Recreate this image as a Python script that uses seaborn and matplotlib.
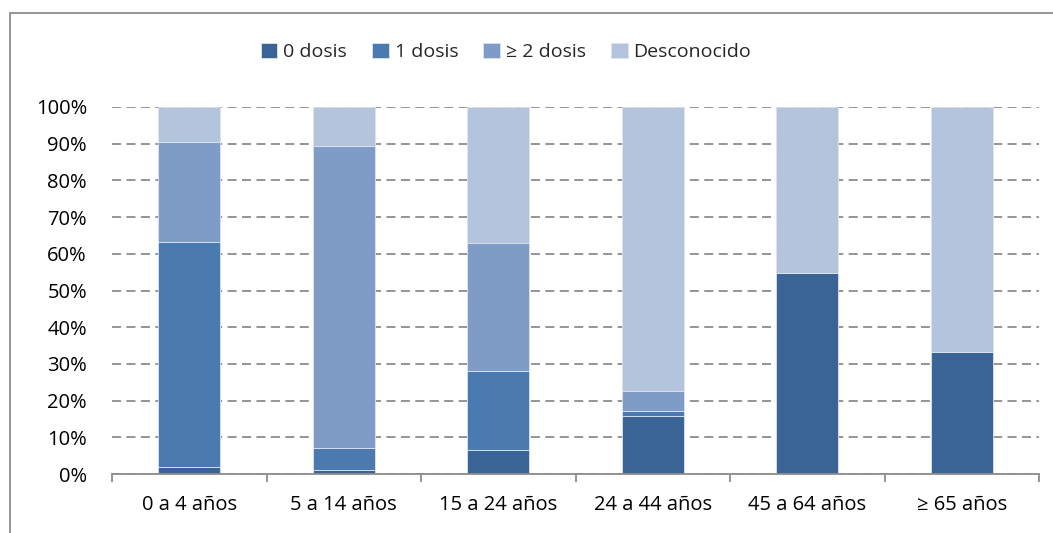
import numpy as np
import pandas as pd
import matplotlib
matplotlib.use("Agg")
import matplotlib.pyplot as plt
import seaborn as sns
from matplotlib.patches import Rectangle
from matplotlib.ticker import FixedLocator, PercentFormatter

# data (shares, %)
age_groups = ["0 a 4 años", "5 a 14 años", "15 a 24 años", "24 a 44 años", "45 a 64 años", "≥ 65 años"]
series_names = ["0 dosis", "1 dosis", "≥ 2 dosis", "Desconocido"]
dose0 = [1.8, 1.1, 6.5, 15.7, 54.9, 33.2]
dose1 = [61.3, 5.9, 21.6, 1.5, 0.0, 0.0]
dose2 = [27.4, 82.5, 34.9, 5.4, 0.0, 0.0]
unknown = [9.5, 10.5, 37.0, 77.4, 45.1, 66.8]
colors = ["#3B6496", "#4A7AB0", "#7F9CC7", "#B5C4DD"]

sns.set_theme(style="white")
plt.rcParams["font.family"] = ["Open Sans", "DejaVu Sans"]

df = pd.DataFrame({"grupo": age_groups, "0 dosis": dose0, "1 dosis": dose1,
                   "≥ 2 dosis": dose2, "Desconocido": unknown})

fig = plt.figure(figsize=(10.53, 5.33), dpi=100)
ax = fig.add_axes([112 / 1053, 1 - 474 / 533, (1039 - 112) / 1053, (474 - 107) / 533])

bottom = np.zeros(len(age_groups))
for name, col in zip(series_names, colors):
    vals = df[name].to_numpy() / 100
    sns.barplot(x=df["grupo"], y=vals, bottom=bottom, color=col, saturation=1, width=0.4,
                edgecolor="#dde4ef", linewidth=0.6, ax=ax, label=name, zorder=2)
    bottom = bottom + vals

handles, labels = ax.get_legend_handles_labels()
if ax.get_legend() is not None:
    ax.get_legend().remove()

ax.set_ylim(0, 1)
ax.set_xlim(-0.5, len(age_groups) - 0.5)
ax.set_yticks(np.arange(0, 1.01, 0.1))
ax.yaxis.set_major_formatter(PercentFormatter(1.0, decimals=0))
ax.yaxis.grid(True, linestyle=(0, (5, 3)), color="#8c8c8c", linewidth=1.3, zorder=0)
ax.set_axisbelow(True)
ax.set_xlabel("")
ax.set_ylabel("")

for s in ["top", "right", "left"]:
    ax.spines[s].set_visible(False)
ax.spines["bottom"].set_color("#8c8c8c")
ax.spines["bottom"].set_linewidth(1.3)

ax.tick_params(axis="y", length=0, pad=18, labelsize=14.5, labelcolor="black")
ax.tick_params(axis="x", which="major", length=0, pad=15, labelsize=14.5, labelcolor="black")
ax.xaxis.set_minor_locator(FixedLocator(np.arange(-0.5, len(age_groups), 1)))
ax.tick_params(axis="x", which="minor", bottom=True, length=6, width=1.3, color="#8c8c8c",
               direction="out")

fig.legend(handles, labels, loc="center", bbox_to_anchor=(506 / 1053, 1 - 52 / 533), ncol=4,
           frameon=False, fontsize=14, handlelength=0.85, handleheight=0.85,
           handletextpad=0.3, columnspacing=1.3)

fig.patches.append(Rectangle((10 / 1053, -0.1), 1.2, 1 - 13 / 533 + 0.1, transform=fig.transFigure,
                             fill=False, edgecolor="#8c8c8c", linewidth=1.3))

fig.savefig("out.png", dpi=100)
